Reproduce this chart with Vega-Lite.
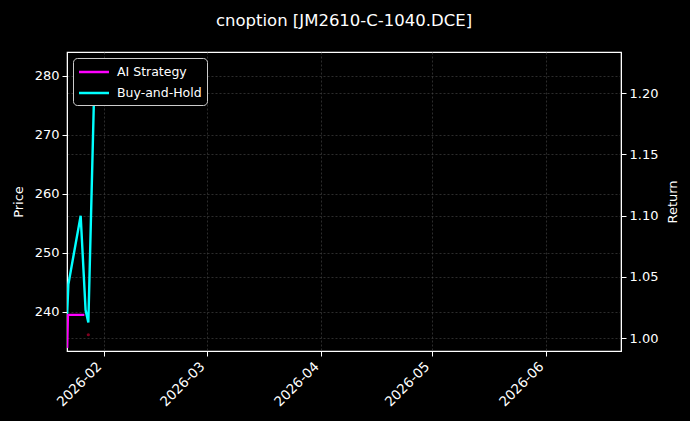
{
  "$schema": "https://vega.github.io/schema/vega-lite/v6.json",
  "autosize": {"type": "none"},
  "width": 554,
  "height": 299,
  "padding": {"left": 67, "top": 52, "right": 69, "bottom": 70},
  "background": "#000000",
  "title": {
    "text": "cnoption [JM2610-C-1040.DCE]",
    "color": "#ffffff",
    "font": "DejaVu Sans",
    "fontSize": 16.5,
    "fontWeight": "normal",
    "offset": 23,
    "anchor": "middle"
  },
  "config": {
    "view": {"stroke": "#ffffff", "strokeWidth": 1.2},
    "axis": {
      "labelColor": "#ffffff",
      "titleColor": "#ffffff",
      "labelFont": "DejaVu Sans",
      "titleFont": "DejaVu Sans",
      "labelFontSize": 13,
      "titleFontSize": 13,
      "titleFontWeight": "normal",
      "domainColor": "#ffffff",
      "tickColor": "#ffffff",
      "tickSize": 5,
      "labelPadding": 3,
      "gridColor": "#4a4a4a",
      "gridDash": [2, 2],
      "gridWidth": 0.6
    },
    "legend": {
      "labelColor": "#ffffff",
      "labelFont": "DejaVu Sans",
      "labelFontSize": 12.5
    }
  },
  "datasets": {
    "returns": [
      {"date": "2026-01-22T00:00", "series": "AI Strategy", "value": 0.992},
      {"date": "2026-01-22T05:00", "series": "AI Strategy", "value": 1.019},
      {"date": "2026-01-26T16:00", "series": "AI Strategy", "value": 1.019},
      {"date": "2026-01-22T00:00", "series": "Buy-and-Hold", "value": 1.020},
      {"date": "2026-01-22T08:00", "series": "Buy-and-Hold", "value": 1.044},
      {"date": "2026-01-25T16:00", "series": "Buy-and-Hold", "value": 1.100},
      {"date": "2026-01-27T00:00", "series": "Buy-and-Hold", "value": 1.023},
      {"date": "2026-01-27T18:00", "series": "Buy-and-Hold", "value": 1.0127},
      {"date": "2026-01-29T12:00", "series": "Buy-and-Hold", "value": 1.223}
    ],
    "price": [
      {"date": "2026-01-27T18:00", "price": 236.1}
    ]
  },
  "encoding": {
    "x": {
      "field": "date",
      "type": "temporal",
      "scale": {"domain": ["2026-01-21T23:00", "2026-06-21T07:00"]},
      "axis": {
        "title": null,
        "format": "%Y-%m",
        "values": [
          {"year": 2026, "month": 2, "date": 1},
          {"year": 2026, "month": 3, "date": 1},
          {"year": 2026, "month": 4, "date": 1},
          {"year": 2026, "month": 5, "date": 1},
          {"year": 2026, "month": 6, "date": 1}
        ],
        "labelAngle": -45,
        "labelAlign": "right",
        "labelBaseline": "middle",
        "labelOffset": -5,
        "labelPadding": 8,
        "labelFontSize": 13.5,
        "grid": true
      }
    }
  },
  "layer": [
    {
      "data": {"name": "price"},
      "mark": {"type": "point", "filled": true, "size": 10, "color": "#800020", "opacity": 1},
      "encoding": {
        "y": {
          "field": "price",
          "type": "quantitative",
          "scale": {"domain": [233.34, 284.07], "nice": false, "zero": false},
          "axis": {
            "title": "Price",
            "orient": "left",
            "values": [240, 250, 260, 270, 280],
            "grid": true,
            "titlePadding": 9
          }
        }
      }
    },
    {
      "data": {"name": "returns"},
      "mark": {"type": "line", "strokeWidth": 2.4, "clip": true},
      "encoding": {
        "y": {
          "field": "value",
          "type": "quantitative",
          "scale": {"domain": [0.9895, 1.2337], "nice": false, "zero": false},
          "axis": {
            "title": "Return",
            "orient": "right",
            "titleAngle": 270,
            "titleBaseline": "top",
            "values": [1.0, 1.05, 1.1, 1.15, 1.2],
            "format": ".2f",
            "grid": true,
            "titlePadding": 9
          }
        },
        "color": {
          "field": "series",
          "type": "nominal",
          "scale": {"domain": ["AI Strategy", "Buy-and-Hold"], "range": ["#ff00ff", "#00ffff"]},
          "legend": {
            "title": null,
            "orient": "top-left",
            "offset": 6,
            "fillColor": "#000000",
            "strokeColor": "#cccccc",
            "cornerRadius": 4,
            "padding": 5,
            "symbolType": "M-2,0H2",
            "symbolStrokeWidth": 2.5,
            "symbolSize": 225,
            "symbolOffset": 7,
            "labelOffset": 14,
            "rowPadding": 5
          }
        }
      }
    }
  ],
  "resolve": {"scale": {"y": "independent"}}
}
